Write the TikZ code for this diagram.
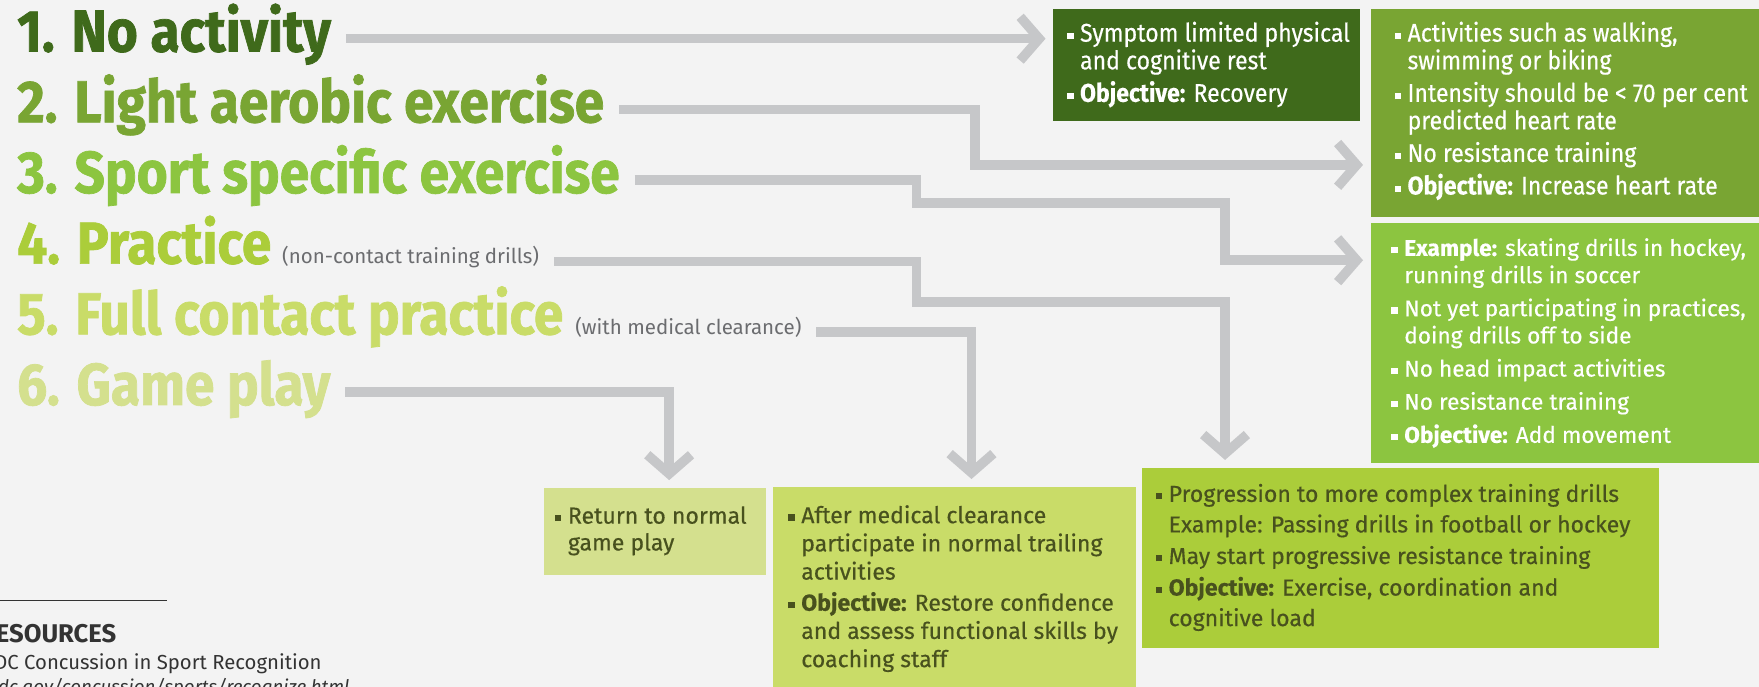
\documentclass[tikz,border=0pt]{standalone}
\usepackage{fontspec}
\setmainfont{Fira Sans}
\newfontfamily\headfont[FakeStretch=0.9,FakeBold=1.2]{Fira Sans}
\newfontfamily\cardfont[FakeBold=0.4]{Fira Sans}
\newfontfamily\narrowfont[FakeStretch=0.9,FakeBold=0.4]{Fira Sans}
\usetikzlibrary{arrows.meta}
\definecolor{Paper}{HTML}{F3F3F3}
\definecolor{Rail}{HTML}{C6C7C9}
\definecolor{Moss}{HTML}{3F6A1B}
\definecolor{Fern}{HTML}{79A533}
\definecolor{Leaf}{HTML}{8CC540}
\definecolor{Lime}{HTML}{ABCD3A}
\definecolor{Pear}{HTML}{C9DC68}
\definecolor{Straw}{HTML}{D4E08E}
\definecolor{Olive}{HTML}{48511E}
\definecolor{Slate}{HTML}{6B6C6F}
\definecolor{Ink}{HTML}{333333}
% square bullet and the matching hanging indent
\newcommand\sq{\makebox[6.5pt][l]{\rule[1.3pt]{3.2pt}{3.2pt}}}
\newcommand\ind{\hspace*{6.5pt}}

\begin{document}
\begin{tikzpicture}[x=1cm,y=1cm,
    stage/.style={anchor=base west,inner sep=0pt,text height=0.46cm,text depth=0pt,font=\headfont\bfseries\fontsize{30}{32}\selectfont},
    aside/.style={anchor=base west,inner sep=0pt,text height=0.08cm,text depth=0pt,text=Slate,font=\fontsize{10.4}{13}\selectfont},
    card/.style={anchor=north west,inner sep=0pt,outer sep=0pt},
    cardtext/.style={anchor=north west,inner sep=0pt,align=left},
    flow/.style={draw=Rail,line width=0.17cm,shorten >=0.14cm,-{Straight Barb[length=0.34cm,width=0.78cm]}}]
    \useasboundingbox (0,0) rectangle (31.36,12.24);
    \clip (0,0) rectangle (31.36,12.24);
    \fill[Paper] (0,0) rectangle (31.36,12.24);

    % the six stages
    \node[stage,text=Moss] (h1) at (0.30,11.32) {1. No activity};
    \node[stage,text=Fern] (h2) at (0.30,10.06) {2. Light aerobic exercise};
    \node[stage,text=Leaf] (h3) at (0.30,8.80) {3. Sport specific exercise};
    \node[stage,text=Lime] (h4) at (0.30,7.54) {4. Practice};
    \node[aside] (n4) at ([xshift=0.18cm]h4.base east) {(non-contact training drills)};
    \node[stage,text=Pear] (h5) at (0.30,6.28) {5. Full contact practice};
    \node[aside] (n5) at ([xshift=0.20cm]h5.base east) {(with medical clearance)};
    \node[stage,text=Straw] (h6) at (0.30,5.02) {6. Game play};

    % boxes
    \node[card,fill=Moss,minimum width=5.46cm,minimum height=2.00cm] (b1) at (18.78,12.08) {};
    \node[card,fill=Fern,minimum width=7.10cm,minimum height=3.70cm] (b2) at (24.44,12.08) {};
    \node[card,fill=Leaf,minimum width=7.10cm,minimum height=4.28cm] (b3) at (24.44,8.26) {};
    \node[card,fill=Lime,minimum width=9.22cm,minimum height=3.22cm] (b4) at (20.36,3.90) {};
    \node[card,fill=Pear,minimum width=6.48cm,minimum height=3.80cm] (b5) at (13.78,3.56) {};
    \node[card,fill=Straw,minimum width=3.96cm,minimum height=1.55cm] (b6) at (9.70,3.54) {};

    \node[cardtext,text=white,font=\narrowfont\fontsize{13}{14}\selectfont] (t1) at (19.02,11.86)
      {\sq Symptom limited physical\\ \ind and cognitive rest\\[2.5pt] \sq\textbf{Objective:} Recovery};
    \node[cardtext,text=white,font=\narrowfont\fontsize{13}{14}\selectfont] (t2) at (24.86,11.86)
      {\sq Activities such as walking,\\ \ind swimming or biking\\[2.5pt]
       \sq Intensity should be < 70 per cent\\ \ind predicted heart rate\\[2.5pt]
       \sq No resistance training\\[2.5pt]
       \sq\textbf{Objective:} Increase heart rate};
    \node[cardtext,text=white,font=\cardfont\fontsize{11.5}{13.8}\selectfont] (t3) at (24.80,8.00)
      {\sq\textbf{Example:} skating drills in hockey,\\ \ind running drills in soccer\\[3pt]
       \sq Not yet participating in practices,\\ \ind doing drills off to side\\[3pt]
       \sq No head impact activities\\[3pt]
       \sq No resistance training\\[3pt]
       \sq\textbf{Objective:} Add movement};
    \node[cardtext,text=Olive,font=\cardfont\fontsize{11.7}{15.5}\selectfont] (t4) at (20.60,3.62)
      {\sq Progression to more complex training drills\\ \ind Example: Passing drills in football or hockey\\[0.5pt]
       \sq May start progressive resistance training\\[0.5pt]
       \sq\textbf{Objective:} Exercise, coordination and\\ \ind cognitive load};
    \node[cardtext,text=Olive,font=\cardfont\fontsize{11.7}{14.3}\selectfont] (t5) at (14.05,3.24)
      {\sq After medical clearance\\ \ind participate in normal trailing\\ \ind activities\\[1.5pt]
       \sq\textbf{Objective:} Restore confidence\\ \ind and assess functional skills by\\ \ind coaching staff};
    \node[cardtext,text=Olive,font=\cardfont\fontsize{11.7}{13.6}\selectfont] (t6) at (9.89,3.22)
      {\sq Return to normal\\ \ind game play};

    % connectors
    \draw[flow] ([xshift=0.26cm]h1.east) -- (h1.east -| b1.west);
    \draw[flow] ([xshift=0.26cm]h2.east) -| (17.38,9.30) -- (17.38,9.30 -| b2.west);
    \draw[flow] ([xshift=0.26cm]h3.east) -| (16.34,8.62) -| (21.84,7.60) -- (21.84,7.60 -| b3.west);
    \draw[flow] ([xshift=0.26cm]n4.east) -| (16.34,6.86) -| (b4.north -| 21.84,0);
    \draw[flow] ([xshift=0.26cm]n5.east) -| (b5.north -| 17.32,0);
    \draw[flow] ([xshift=0.26cm]h6.east) -| (b6.north -| 11.93,0);

    % resources footer
    \draw[Ink,line width=0.6pt] (0,1.54) -- (2.98,1.54);
    \node[anchor=base east,inner sep=0pt,text=Ink,font=\bfseries\fontsize{13}{15}\selectfont] (res) at (2.08,0.78) {RESOURCES};
    \node[anchor=base east,inner sep=0pt,text=Ink,font=\fontsize{10.3}{12}\selectfont] (cdc) at (5.74,0.30) {CDC Concussion in Sport Recognition};
    \node[anchor=base east,inner sep=0pt,text=Ink,font=\itshape\fontsize{9.5}{12}\selectfont] (url) at (6.24,-0.12) {www.cdc.gov/concussion/sports/recognize.html};
\end{tikzpicture}
\end{document}
